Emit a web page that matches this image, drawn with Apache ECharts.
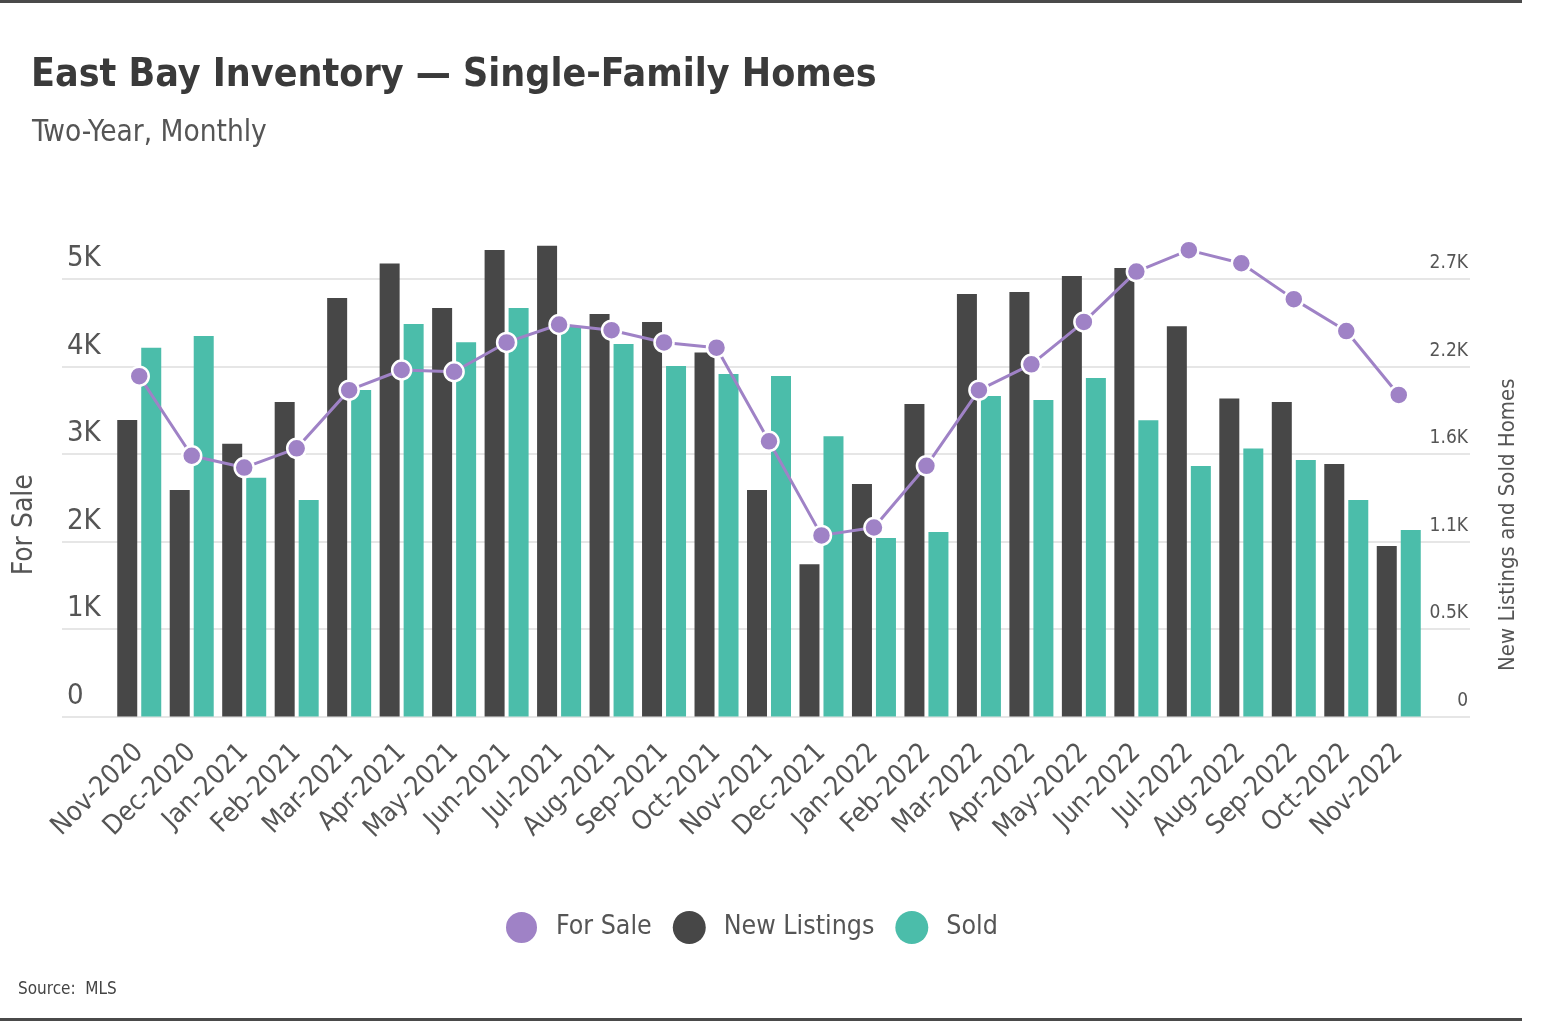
<!DOCTYPE html>
<html><head><meta charset="utf-8">
<script src="https://cdn.jsdelivr.net/npm/echarts@6/dist/echarts.min.js"></script>
<style>html,body{margin:0;padding:0;background:#fff}#c{width:1542px;height:1026px}</style>
</head><body><div id="c"></div>
<script>
const categories = ['Nov-2020','Dec-2020','Jan-2021','Feb-2021','Mar-2021','Apr-2021','May-2021','Jun-2021','Jul-2021','Aug-2021','Sep-2021','Oct-2021','Nov-2021','Dec-2021','Jan-2022','Feb-2022','Mar-2022','Apr-2022','May-2022','Jun-2022','Jul-2022','Aug-2022','Sep-2022','Oct-2022','Nov-2022'];
const forSale = [3890,2980,2845,3065,3730,3960,3940,4275,4480,4415,4275,4215,3145,2070,2160,2865,3730,4025,4510,5085,5330,5180,4770,4405,3675];
const newListings = [1850,1413,1702,1962,2611,2826,2549,2911,2938,2512,2462,2272,1413,950,1451,1950,2636,2649,2749,2799,2435,1985,1962,1576,1064];
const sold = [2301,2374,1490,1351,2037,2449,2335,2549,2432,2324,2187,2137,2125,1748,1114,1151,2000,1975,2112,1848,1563,1673,1601,1351,1164];
const leftTicks = {min:0, max:5000, interval:1000};
const rightTicks = {min:0, max:2730, interval:546};

const FONT = "'Liberation Sans Narrow','DejaVu Sans Condensed','Roboto Condensed',sans-serif";
const PURPLE = '#9f82c6', DARK = '#474747', TEAL = '#4bbdaa', TXT = '#555';

const chart = echarts.init(document.getElementById('c'));
chart.setOption({
  animation:false,
  backgroundColor:'#fff',
  textStyle:{fontFamily:FONT},
  title:[
    {text:'East Bay Inventory — Single-Family Homes', left:26, top:51,
     textStyle:{fontFamily:FONT, fontSize:39, fontWeight:'bold', color:'#3a3a3a'}},
    {text:'Two-Year, Monthly', left:27, top:113,
     textStyle:{fontFamily:FONT, fontSize:29.5, fontWeight:'normal', color:'#555'}},
    {text:'Source:  MLS', left:13, top:976,
     textStyle:{fontFamily:FONT, fontSize:17, fontWeight:'normal', color:'#444'}}
  ],
  legend:{
    data:['For Sale','New Listings','Sold'], left:499, top:905,
    icon:'circle', itemWidth:33, itemHeight:33, itemGap:21,
    textStyle:{fontFamily:FONT, fontSize:26.5, color:TXT, padding:[0,0,0,13]}
  },
  grid:[
    {left:113, right:117, top:279, bottom:309.5, containLabel:false},
    {left:62, right:72, top:279, bottom:309.5, containLabel:false}
  ],
  xAxis:[
    {type:'category', gridIndex:0, data:categories, boundaryGap:true,
     axisLine:{show:false}, axisTick:{show:false},
     axisLabel:{rotate:45, fontFamily:FONT, fontSize:27, color:TXT, margin:32, interval:0}},
    {type:'category', gridIndex:1, data:categories, show:false}
  ],
  yAxis:[
    {type:'value', gridIndex:0, position:'left', show:false, min:leftTicks.min, max:leftTicks.max, interval:leftTicks.interval, splitLine:{show:false}},
    {type:'value', gridIndex:0, position:'right', show:false, min:rightTicks.min, max:rightTicks.max, interval:rightTicks.interval, splitLine:{show:false}},
    {type:'value', gridIndex:1, position:'left', min:leftTicks.min, max:leftTicks.max, interval:leftTicks.interval,
     name:'For Sale', nameLocation:'middle', nameRotate:90, nameGap:23,
     nameTextStyle:{fontFamily:FONT, fontSize:28, color:TXT, padding:[0,54,0,0]},
     axisLine:{show:false}, axisTick:{show:false},
     axisLabel:{inside:true, margin:5, align:'left', verticalAlign:'bottom', padding:[0,0,6,0], fontFamily:FONT, fontSize:29, color:TXT,
       formatter:v=> v===0?'0':(v/1000)+'K'},
     splitLine:{show:true, lineStyle:{color:'#dedede', width:1.5}}},
    {type:'value', gridIndex:1, position:'right', min:rightTicks.min, max:rightTicks.max, interval:rightTicks.interval,
     name:'New Listings and Sold Homes', nameLocation:'middle', nameRotate:90, nameGap:27,
     nameTextStyle:{fontFamily:FONT, fontSize:22, color:TXT, padding:[0,54,0,0]},
     axisLine:{show:false}, axisTick:{show:false},
     axisLabel:{inside:true, margin:2, align:'right', verticalAlign:'bottom', padding:[0,0,6,0], fontFamily:FONT, fontSize:19, color:TXT,
       formatter:v=> v===0?'0':(v/1000).toFixed(1)+'K'},
     splitLine:{show:false}}
  ],
  series:[
    {name:'New Listings', type:'bar', xAxisIndex:0, yAxisIndex:1, data:newListings, barWidth:20, barGap:'20%', clip:false,
     itemStyle:{color:DARK}},
    {name:'Sold', type:'bar', xAxisIndex:0, yAxisIndex:1, data:sold, barWidth:20, barGap:'20%', clip:false,
     itemStyle:{color:TEAL}},
    {name:'For Sale', type:'line', xAxisIndex:0, yAxisIndex:0, data:forSale, z:5, clip:false,
     symbol:'circle', symbolSize:19, lineStyle:{color:PURPLE, width:3},
     itemStyle:{color:PURPLE, borderColor:'#fff', borderWidth:2.5}}
  ],
  graphic:[
    {type:'rect', shape:{x:0, y:0, width:1522, height:3}, style:{fill:'#4a4a4a'}},
    {type:'rect', shape:{x:0, y:1018, width:1522, height:3}, style:{fill:'#4a4a4a'}}
  ]
});
</script></body></html>
